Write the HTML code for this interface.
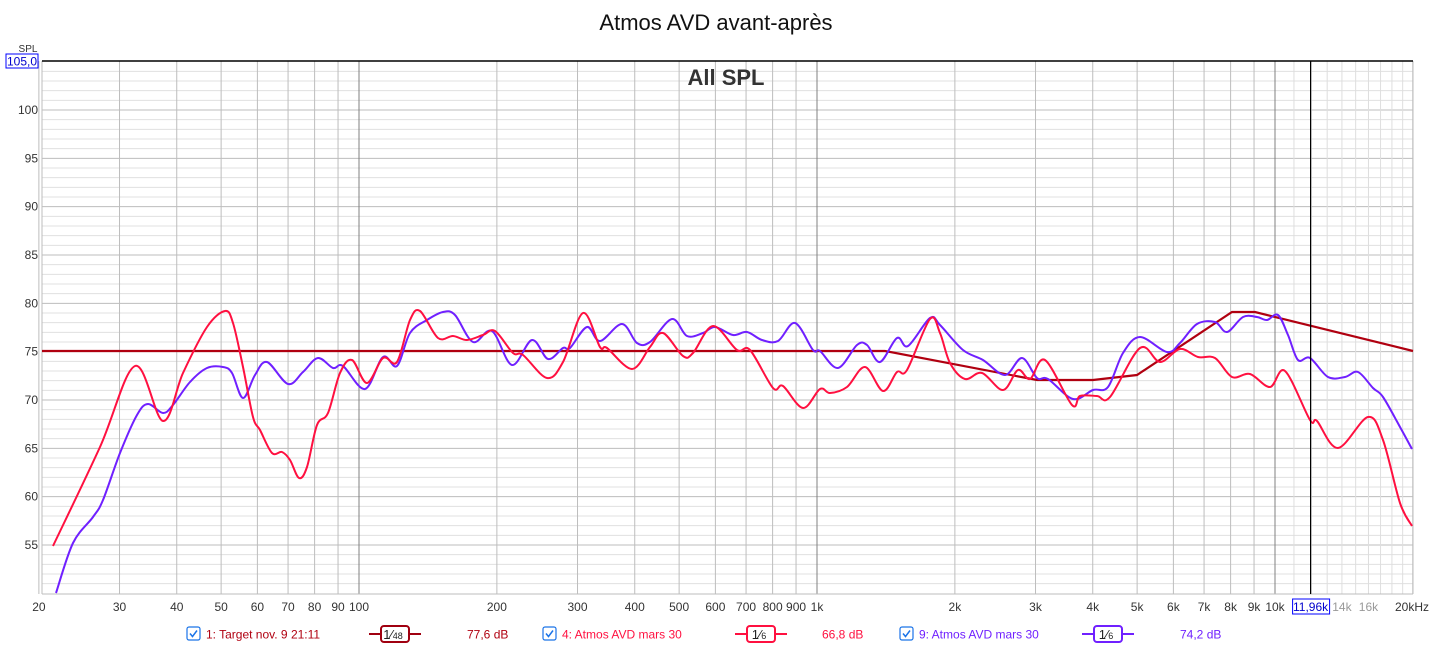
<!DOCTYPE html>
<html><head><meta charset="utf-8"><style>
html,body{margin:0;padding:0;background:#fff;width:1433px;height:646px;overflow:hidden}
svg{display:block;font-family:"Liberation Sans",sans-serif}
</style></head><body>
<svg id="s" width="1433" height="646" xmlns="http://www.w3.org/2000/svg"></svg>
<script>
const s=document.getElementById('s');let h='';
const X=f=>1275+458*Math.log10(f/10000);
const Y=d=>110+(100-d)*9.667;
const L=42,R=1413,T=61,B=594;
// horizontal grid
for(let d=51;d<=104;d++){const y=Y(d);const maj=d%5==0;h+=`<line x1="${L}" x2="${R}" y1="${y}" y2="${y}" stroke="${maj?'#bdbdbd':'#e0e0e0'}" stroke-width="1"/>`;
 if(maj&&d<=100)h+=`<text x="38" y="${y+4}" font-size="12" text-anchor="end" fill="#333">${d}</text>`;}
// vertical grid
const fs=[];for(let dec of [10,100,1000,10000])for(let m=1;m<=9;m++){const f=dec*m;if(f>=20&&f<=20000)fs.push(f);}
fs.push(20000);
for(const f of fs){const x=X(f);let c='#bdbdbd';if(f==100||f==1000||f==10000)c='#808080';
 h+=`<line x1="${x}" x2="${x}" y1="${T}" y2="${B}" stroke="${c}"/>`;}
for(let f=11000;f<20000;f+=1000){if(f==10000)continue;const x=X(f);h+=`<line x1="${x}" x2="${x}" y1="${T}" y2="${B}" stroke="#dedede"/>`;}
h+=`<line x1="${L}" x2="${L}" y1="${T}" y2="${B}" stroke="#bdbdbd"/><line x1="${R}" x2="${R}" y1="${T}" y2="${B}" stroke="#bdbdbd"/>`;
h+=`<line x1="${L}" x2="${R}" y1="${B}" y2="${B}" stroke="#bdbdbd"/>`;
h+=`<line x1="${L}" x2="${R}" y1="${T}" y2="${T}" stroke="#000" stroke-width="1.5"/>`;
// x labels
const xl=[[20,'20'],[30,'30'],[40,'40'],[50,'50'],[60,'60'],[70,'70'],[80,'80'],[90,'90'],[100,'100'],[200,'200'],[300,'300'],[400,'400'],[500,'500'],[600,'600'],[700,'700'],[800,'800'],[900,'900'],[1000,'1k'],[2000,'2k'],[3000,'3k'],[4000,'4k'],[5000,'5k'],[6000,'6k'],[7000,'7k'],[8000,'8k'],[9000,'9k'],[10000,'10k']];
for(const [f,t] of xl)h+=`<text x="${X(f)}" y="611" font-size="12" text-anchor="middle" fill="#333">${t}</text>`;
h+=`<text x="${X(14000)}" y="611" font-size="12" text-anchor="middle" fill="#999">14k</text><text x="${X(16000)}" y="611" font-size="12" text-anchor="middle" fill="#999">16k</text><text x="1429" y="611" font-size="12" text-anchor="end" fill="#333">20kHz</text>`;
// curves
function path(p){let d=`M${p[0][0]},${p[0][1]}`;for(let i=0;i<p.length-1;i++){const p0=p[i-1]||p[i],p1=p[i],p2=p[i+1],p3=p[i+2]||p2;
 d+=` C${p1[0]+(p2[0]-p0[0])/6},${p1[1]+(p2[1]-p0[1])/6} ${p2[0]-(p3[0]-p1[0])/6},${p2[1]-(p3[1]-p1[1])/6} ${p2[0]},${p2[1]}`;}return d;}
const red=[[53,546],[100,447],[135,366],[163,421],[183,373],[207,327],[225,311],[233,323],[243,367],[253,417],[260,430],[272,453],[282,452],[290,460],[299,478],[307,467],[317,425],[328,413],[340,373],[352,360],[367,383],[383,358],[397,362],[410,320],[420,311],[438,338],[453,336],[467,340],[483,335],[495,331],[513,353],[523,355],[547,378],[563,362],[583,313],[600,347],[607,348],[632,369],[650,347],[663,333],[683,356],[693,353],[713,326],[737,350],[750,350],[773,388],[783,386],[803,408],[820,389],[830,393],[847,387],[865,367],[883,391],[897,372],[907,370],[930,319],[940,333],[950,363],[965,379],[982,373],[1003,390],[1018,370],[1030,379],[1045,360],[1072,405],[1080,396],[1097,396],[1110,397],[1140,348],[1160,362],[1180,349],[1198,357],[1215,358],[1232,377],[1250,374],[1270,387],[1285,371],[1310,420],[1317,421],[1338,448],[1368,417],[1383,440],[1400,503],[1412,526]];
const pur=[[56,593],[73,543],[93,517],[103,500],[120,453],[137,415],[148,404],[163,413],[173,405],[190,382],[207,368],[223,367],[232,373],[243,398],[255,375],[267,362],[288,384],[303,372],[318,358],[333,368],[343,366],[365,389],[383,357],[397,366],[410,333],[427,320],[443,312],[455,315],[473,342],[492,331],[512,365],[532,340],[548,359],[563,348],[570,348],[587,327],[600,341],[622,324],[637,343],[650,342],[672,319],[687,336],[703,333],[715,327],[733,335],[747,332],[762,340],[778,341],[795,323],[813,350],[820,351],[838,368],[857,345],[867,345],[880,362],[897,338],[908,346],[930,318],[940,325],[963,350],[983,360],[1005,375],[1022,358],[1037,378],[1048,379],[1073,399],[1093,390],[1108,387],[1123,353],[1140,337],[1167,352],[1180,343],[1197,324],[1215,322],[1227,332],[1243,317],[1257,317],[1267,320],[1278,315],[1288,335],[1298,360],[1310,358],[1328,377],[1345,377],[1358,372],[1373,388],[1383,397],[1400,427],[1412,449]];
h+=`<path d="M42,351 L885,351 L1037,380 L1093,380 L1137,375 L1232,312 L1255,312 L1413,351" fill="none" stroke="#b00010" stroke-width="2.2"/>`;
h+=`<path d="${path(pur)}" fill="none" stroke="#7020ff" stroke-width="2"/>`;
h+=`<path d="${path(red)}" fill="none" stroke="#ff1040" stroke-width="2"/>`;
// cursor
const cx=X(11960);
h+=`<line x1="${cx}" x2="${cx}" y1="${T}" y2="${B}" stroke="#000" stroke-width="1.2"/>`;
h+=`<rect x="${cx-18}" y="599" width="37" height="15" fill="#fff" stroke="#0000ff"/><text x="${cx}" y="611" font-size="12" text-anchor="middle" fill="#0000cc">11,96k</text>`;
// y box
h+=`<text x="28" y="52" font-size="10" text-anchor="middle" fill="#333">SPL</text>`;
h+=`<rect x="6" y="54" width="32" height="14" fill="#fff" stroke="#0000ff"/><text x="22" y="65.5" font-size="12" text-anchor="middle" fill="#0000cc">105,0</text>`;
// title
h+=`<text x="716" y="30" font-size="22" text-anchor="middle" fill="#111">Atmos AVD avant-après</text>`;
h+=`<text x="726" y="85" font-size="22" font-weight="bold" text-anchor="middle" fill="#333">All SPL</text>`;
// legend
function cb(x){return `<rect x="${x-6}" y="627" width="13" height="13" rx="2" fill="#fff" stroke="#1a73e8" stroke-width="1.2"/><path d="M${x-3},633.5 l2.5,3 l4.5,-6" fill="none" stroke="#1a73e8" stroke-width="1.5"/>`;}
function sm(x,c,t){return `<line x1="${x-26}" x2="${x+26}" y1="634" y2="634" stroke="${c}" stroke-width="2"/><rect x="${x-14}" y="626" width="28" height="16" rx="3" fill="#fff" stroke="${c}" stroke-width="2"/><text x="${x-2}" y="639" font-size="13" text-anchor="middle" fill="#222">1⁄<tspan font-size="9">${t}</tspan></text>`;}
h+=cb(193)+`<text x="206" y="638.5" font-size="12" fill="#b00010">1: Target nov. 9 21:11</text>`+sm(395,'#a00010','48')+`<text x="467" y="638.5" font-size="12" fill="#b00010">77,6 dB</text>`;
h+=cb(549)+`<text x="562" y="638.5" font-size="12" fill="#ff1040">4: Atmos AVD mars 30</text>`+sm(761,'#ff1040','6')+`<text x="822" y="638.5" font-size="12" fill="#ff1040">66,8 dB</text>`;
h+=cb(906)+`<text x="919" y="638.5" font-size="12" fill="#7020ff">9: Atmos AVD mars 30</text>`+sm(1108,'#7020ff','6')+`<text x="1180" y="638.5" font-size="12" fill="#7020ff">74,2 dB</text>`;
s.innerHTML=h;
</script>
</body></html>
